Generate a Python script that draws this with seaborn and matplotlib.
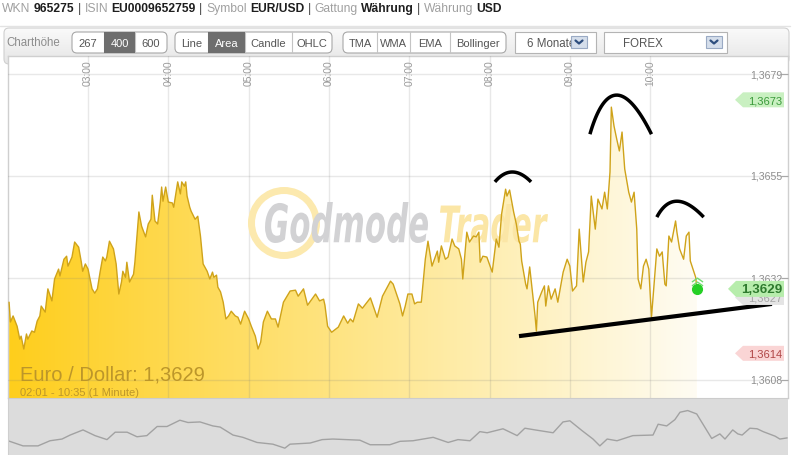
import numpy as np
import pandas as pd
import matplotlib
matplotlib.use("Agg")
import matplotlib.pyplot as plt
import seaborn as sns
from matplotlib.patches import FancyBboxPatch, Rectangle, Polygon, Wedge, PathPatch
from matplotlib.path import Path
from matplotlib.textpath import TextPath
from matplotlib.font_manager import FontProperties
from matplotlib.transforms import Affine2D, blended_transform_factory, offset_copy

# EUR/USD, 1-minute chart: minutes after 02:00 and the quote
minutes = [
    1, 2, 4, 7, 9, 10, 12, 14, 15, 18,
    20, 22, 24, 25, 28, 30, 33, 35, 38, 39,
    42, 44, 45, 48, 50, 53, 55, 56, 58, 60,
    63, 65, 67, 69, 71, 73, 74, 76, 79, 81,
    83, 85, 86, 88, 89, 91, 94, 95, 98, 100,
    103, 105, 107, 108, 110, 112, 114, 115, 116, 118,
    120, 123, 124, 127, 129, 130, 132, 133, 134, 136,
    137, 140, 142, 144, 146, 149, 151, 153, 154, 156,
    157, 159, 161, 163, 165, 167, 170, 172, 174, 177,
    180, 182, 185, 187, 189, 191, 194, 197, 200, 202,
    206, 211, 215, 217, 221, 224, 230, 233, 236, 237,
    239, 242, 247, 251, 254, 256, 258, 262, 265, 271,
    276, 280, 286, 288, 291, 293, 295, 297, 299, 302,
    304, 306, 309, 312, 314, 317, 321, 322, 324, 327,
    329, 332, 334, 337, 339, 340, 343, 345, 348, 350,
    352, 353, 355, 358, 362, 365, 367, 369, 372, 373,
    375, 378, 380, 382, 383, 384, 387, 388, 390, 392,
    394, 395, 396, 399, 401, 402, 404, 406, 409, 411,
    415, 418, 420, 422, 425, 427, 430, 432, 434, 436,
    439, 441, 444, 446, 448, 450, 451, 453, 455, 457,
    459, 461, 464, 466, 468, 470, 471, 473, 475, 477,
    479, 481, 484, 485, 487, 489, 491, 492, 494, 496,
    499, 500, 502, 505, 507, 509, 510, 512, 514, 515,
]
prices = [
    1.36259, 1.36213, 1.36227, 1.36203, 1.36173, 1.36180, 1.36150, 1.36185, 1.36173, 1.36192,
    1.36189, 1.36215, 1.36227, 1.36250, 1.36236, 1.36290, 1.36262, 1.36313, 1.36336, 1.36320,
    1.36359, 1.36366, 1.36343, 1.36364, 1.36399, 1.36387, 1.36352, 1.36331, 1.36348, 1.36336,
    1.36290, 1.36280, 1.36290, 1.36329, 1.36364, 1.36355, 1.36364, 1.36401, 1.36383, 1.36348,
    1.36278, 1.36306, 1.36331, 1.36317, 1.36352, 1.36306, 1.36324, 1.36352, 1.36469, 1.36436,
    1.36411, 1.36441, 1.36452, 1.36508, 1.36448, 1.36441, 1.36492, 1.36527, 1.36494, 1.36527,
    1.36492, 1.36490, 1.36480, 1.36539, 1.36511, 1.36539, 1.36529, 1.36539, 1.36506, 1.36480,
    1.36471, 1.36452, 1.36459, 1.36413, 1.36348, 1.36331, 1.36313, 1.36329, 1.36317, 1.36322,
    1.36294, 1.36283, 1.36259, 1.36220, 1.36227, 1.36238, 1.36227, 1.36224, 1.36208, 1.36238,
    1.36220, 1.36203, 1.36180, 1.36150, 1.36166, 1.36213, 1.36238, 1.36220, 1.36220, 1.36201,
    1.36259, 1.36285, 1.36287, 1.36273, 1.36290, 1.36252, 1.36278, 1.36262, 1.36266, 1.36252,
    1.36203, 1.36189, 1.36201, 1.36227, 1.36210, 1.36220, 1.36213, 1.36255, 1.36245, 1.36269,
    1.36224, 1.36273, 1.36308, 1.36301, 1.36273, 1.36255, 1.36227, 1.36250, 1.36278, 1.36278,
    1.36255, 1.36259, 1.36259, 1.36359, 1.36401, 1.36343, 1.36378, 1.36352, 1.36390, 1.36359,
    1.36364, 1.36406, 1.36390, 1.36383, 1.36359, 1.36313, 1.36422, 1.36399, 1.36413, 1.36411,
    1.36422, 1.36352, 1.36366, 1.36364, 1.36329, 1.36406, 1.36387, 1.36464, 1.36522, 1.36506,
    1.36520, 1.36469, 1.36441, 1.36401, 1.36394, 1.36355, 1.36301, 1.36290, 1.36341, 1.36283,
    1.36227, 1.36192, 1.36259, 1.36283, 1.36297, 1.36250, 1.36297, 1.36266, 1.36290, 1.36259,
    1.36329, 1.36359, 1.36343, 1.36285, 1.36297, 1.36429, 1.36306, 1.36352, 1.36376, 1.36506,
    1.36429, 1.36499, 1.36476, 1.36515, 1.36476, 1.36562, 1.36713, 1.36669, 1.36639, 1.36611,
    1.36655, 1.36569, 1.36515, 1.36492, 1.36515, 1.36429, 1.36313, 1.36290, 1.36343, 1.36359,
    1.36336, 1.36224, 1.36341, 1.36383, 1.36366, 1.36376, 1.36301, 1.36297, 1.36413, 1.36399,
    1.36448, 1.36422, 1.36383, 1.36359, 1.36413, 1.36422, 1.36355, 1.36336, 1.36317, 1.36290,
]

# 6-month overview strip under the chart (days, relative level)
nav_days = [0, 3.5, 7.0, 9.8, 12.6, 14.5, 17.5, 20.3, 23.1, 25.0,
            27.8, 30.1, 32.4, 34.8, 37.1, 40.1, 42.0, 44.8, 47.8, 49.5,
            52.5, 54.8, 58.1, 61.8, 64.6, 65.8, 70.5, 73.3, 75.8, 82.1,
            84.5, 89.1, 91.5, 94.5, 99.2, 102.7, 105.0, 107.8, 110.1, 111.8,
            115.5, 118.8, 120.6, 123.0, 127.2, 129.5, 131.1, 133.9, 136.5, 138.1,
            139.8, 142.1, 145.8, 150.5, 151.7, 153.7, 155.6, 156.8, 158.6, 160.7,
            164.2, 166.1, 167.3, 169.1, 170.3, 171.3, 173.1, 174.8, 176.2, 179.0,
            180.1, 181.8]
nav_level = [25, 16, 16, 25, 28, 35, 44, 34, 27, 40,
             40, 32, 34, 50, 50, 61, 57, 58, 51, 49,
             35, 31, 22, 19, 12, 19, 21, 27, 28, 26,
             18, 18, 24, 25, 31, 22, 27, 25, 41, 39,
             46, 34, 47, 44, 39, 58, 60, 43, 28, 16,
             28, 25, 34, 35, 54, 51, 62, 75, 78, 72,
             29, 37, 28, 44, 37, 35, 47, 46, 41, 33,
             28, 30]

hour_ticks = [60, 120, 180, 240, 300, 360, 420, 480]
hour_labels = ["03:00", "04:00", "05:00", "06:00", "07:00", "08:00", "09:00", "10:00"]
price_ticks = [1.36790, 1.36553, 1.36315, 1.36078]
price_labels = ["1,3679", "1,3655", "1,3632", "1,3608"]

day_high = 1.3673
day_low = 1.3614
last_quote = 1.3629
prev_quote = 1.3627

# head & shoulders sketch drawn onto the screenshot (minute, price)
left_shoulder = [(364, 1.36539), (377, 1.36562), (391, 1.36539)]
head = [(435, 1.36650), (455, 1.36741), (481, 1.36650)]
right_shoulder = [(485, 1.36457), (500, 1.36494), (520, 1.36457)]
neckline = [(382, 1.36180), (571, 1.36255)]

header_parts = [("WKN", "label"), ("965275", "value"), ("|", "sep"),
                ("ISIN", "label"), ("EU0009652759", "value"), ("|", "sep"),
                ("Symbol", "label"), ("EUR/USD", "value"), ("|", "sep"),
                ("Gattung", "label"), ("Währung", "value"), ("|", "sep"),
                ("Währung", "label"), ("USD", "value")]

sns.set_style("white")
plt.rcParams["font.family"] = ["Liberation Sans", "DejaVu Sans"]

W, H = 801, 456
fig = plt.figure(figsize=(W / 100, H / 100), dpi=100)


def px_box(x0, y0, x1, y1):
    return [x0 / W, 1 - y1 / H, (x1 - x0) / W, (y1 - y0) / H]


ui = fig.add_axes([0, 0, 1, 1])
ui.axis("off")
ax = fig.add_axes(px_box(8, 57, 788, 399))
nav = fig.add_axes(px_box(8, 399, 788, 456))
over = fig.add_axes([0, 0, 1, 1])
over.axis("off")
for a in (ui, over):
    a.set_xlim(0, W)
    a.set_ylim(H, 0)

# ---- header line ----
renderer = fig.canvas.get_renderer()
styles = {"label": ("#A0A0A0", "normal"), "value": ("#1E1E1E", "bold"), "sep": ("#444444", "normal")}
x = 2
for txt, kind in header_parts:
    col, wt = styles[kind]
    t = ui.text(x, 9, txt, fontsize=8.7, color=col, fontweight=wt, ha="left", va="center")
    x += t.get_window_extent(renderer).width + 3.4
ui.plot([0, 790], [27, 27], color="#E3E3E3", lw=1)

# ---- toolbar ----
bar = FancyBboxPatch((4, 29), 785, 36, boxstyle="round,pad=0,rounding_size=5",
                     fc="none", ec="#D0D0D0", lw=0.8, zorder=1)
ui.add_patch(bar)
shade_v = np.linspace(0.98, 0.90, 64)[:, None, None] * np.ones((1, 2, 3))
bim = ui.imshow(shade_v, extent=(4, 789, 65, 29), aspect="auto", interpolation="bilinear", zorder=0.5)
bim.set_clip_path(bar)
ui.text(6, 43.5, "Charthöhe", fontsize=8.3, color="#8C8C8C", va="center")


def button_group(items, selected):
    x0, x1 = items[0][1], items[-1][2]
    grp = FancyBboxPatch((x0, 33), x1 - x0, 21, boxstyle="round,pad=0,rounding_size=5",
                         fc="white", ec="#A8A8A8", lw=0.8, zorder=2)
    ui.add_patch(grp)
    for i, (name, a, b) in enumerate(items):
        on = name == selected
        if on:
            r = Rectangle((a, 33), b - a, 21, fc="#6E6E6E", ec="none", zorder=2.2)
            ui.add_patch(r)
            r.set_clip_path(grp)
        if i > 0:
            ui.plot([a, a], [33, 54], color="#C4C4C4", lw=0.8, zorder=2.1)
        ui.text((a + b) / 2, 43.8, name, fontsize=8, ha="center", va="center",
                color="white" if on else "#555555", zorder=3)


button_group([("267", 72, 104), ("400", 104, 135), ("600", 135, 167)], "400")
button_group([("Line", 175, 208), ("Area", 208, 245), ("Candle", 245, 292), ("OHLC", 292, 332)], "Area")
button_group([("TMA", 343, 377), ("WMA", 377, 410), ("EMA", 410, 450), ("Bollinger", 450, 506)], None)


def dropdown(x0, x1, label, tx, ax0):
    ui.add_patch(Rectangle((x0, 33), x1 - x0, 21, fc="white", ec="#B4B4B4", lw=0.8, zorder=2))
    ui.text(tx, 43.8, label, fontsize=8.3, color="#555555", va="center", zorder=3)
    ui.add_patch(Rectangle((ax0, 37), 16, 12, fc="#D5DEEB", ec="#9AAAC4", lw=0.8, zorder=3))
    cx = ax0 + 8
    ui.plot([cx - 3.5, cx, cx + 3.5], [41.5, 44.5, 41.5], color="#2E4E7E", lw=1.6, zorder=4)


dropdown(515, 596, "6 Monate", 527, 571)
dropdown(604, 727, "FOREX", 623, 706)

# ---- price area ----
df = pd.DataFrame({"minute": minutes, "price": prices})
y_lo, y_hi = 1.36036, 1.36832
x_lo, x_hi = 0.2, 583

area = ax.fill_between(df["minute"], df["price"], y_lo, facecolor="none", edgecolor="none")
g = np.linspace(0, 1, 400)
c_left = np.array([254, 206, 28]) / 255
c_right = np.array([255, 252, 243]) / 255
shade_h = c_left + (c_right - c_left) * g[:, None]
fim = ax.imshow(shade_h[None, :, :], extent=(minutes[0], minutes[-1], y_lo, y_hi),
                aspect="auto", interpolation="bilinear", zorder=1)
fim.set_clip_path(area.get_paths()[0], transform=ax.transData)

sns.lineplot(data=df, x="minute", y="price", ax=ax, color="#CFA31A", linewidth=1.0, zorder=5)

ax.set_xlim(x_lo, x_hi)
ax.set_ylim(y_lo, y_hi)
ax.set_xlabel("")
ax.set_ylabel("")
ax.set_xticks(hour_ticks)
ax.set_yticks(price_ticks)
ax.set_axisbelow(False)
ax.grid(True, color="#7A7A7A", alpha=0.17, lw=1)
ax.tick_params(axis="x", length=0, labelbottom=False)
ax.yaxis.set_ticks_position("right")
ax.tick_params(axis="y", direction="in", length=5, width=0.8, color="#A8A8A8",
               labelright=False, labelleft=False)
for side in ("left", "right", "top"):
    ax.spines[side].set_color("#CFCFCF")
    ax.spines[side].set_linewidth(1)
ax.spines["bottom"].set_visible(False)

xtop = blended_transform_factory(ax.transData, ax.transAxes)
for tk, lab in zip(hour_ticks, hour_labels):
    ax.text(tk, 0.991, lab, transform=xtop, rotation=90, ha="center", va="top",
            fontsize=7.4, color="#9A9A9A", zorder=6)
yright = blended_transform_factory(ax.transAxes, ax.transData)
for tk, lab in zip(price_ticks, price_labels):
    ax.text(0.9923, tk, lab, transform=yright, ha="right", va="center",
            fontsize=7.6, color="#8E8E8E", zorder=6)

# watermark (pixel coordinates)
ring = Wedge((284, 224), 36, 0, 360, width=7, fc="#FCE9AE", ec="none",
             transform=ui.transData, zorder=2.8)
ax.add_artist(ring)
wm_font = FontProperties(family="DejaVu Sans", weight="bold", style="italic")


def word_patch(word, left, top, right, base, color):
    tp = TextPath((0, 0), word, size=50, prop=wm_font)
    ext = tp.get_extents()
    tr = (Affine2D().translate(-ext.x0, -ext.y0)
          .scale((right - left) / ext.width, -(base - top) / ext.height)
          .translate(left, base))
    p = PathPatch(tr.transform_path(tp), fc=color, ec="none", transform=ui.transData, zorder=3)
    ax.add_artist(p)


word_patch("Godmode", 265, 203, 428, 244, "#D2D2D4")
word_patch("Trader", 440, 205, 548, 244, "#FBE6A6")


def bezier(pts, n=40):
    (x0, y0), (xp, yp), (x2, y2) = pts
    cx, cy = 2 * xp - (x0 + x2) / 2, 2 * yp - (y0 + y2) / 2
    t = np.linspace(0, 1, n)
    bx = (1 - t) ** 2 * x0 + 2 * (1 - t) * t * cx + t ** 2 * x2
    by = (1 - t) ** 2 * y0 + 2 * (1 - t) * t * cy + t ** 2 * y2
    return bx, by


for arc in (left_shoulder, head, right_shoulder):
    bx, by = bezier(arc)
    ax.plot(bx, by, color="black", lw=2.5, solid_capstyle="butt", zorder=8)
ax.plot([p[0] for p in neckline], [p[1] for p in neckline], color="black", lw=3.0,
        solid_capstyle="butt", zorder=8)

# last quote marker
ax.plot(minutes[-1], prices[-1], "o", ms=7, color="#25D025", zorder=9)
chev = Path([(-1, -0.1), (0, 0.6), (1, -0.1), (-1, -0.8), (0, -0.1), (1, -0.8)],
            [Path.MOVETO, Path.LINETO, Path.LINETO, Path.MOVETO, Path.LINETO, Path.LINETO])
ax.plot(minutes[-1], prices[-1], marker=chev, ms=8, mfc="none", mec="#72DC72", mew=1,
        transform=offset_copy(ax.transData, fig=fig, x=0, y=8, units="dots"), zorder=9)

# ---- overview strip ----
nav.set_facecolor("#DCDCDC")
sns.lineplot(x=nav_days, y=nav_level, ax=nav, color="#A2A2A2", linewidth=1.0)
nav.set_xlim(0, 182)
nav.set_ylim(0, 100)
nav.set_xticks([])
nav.set_yticks([])
nav.set_xlabel("")
nav.set_ylabel("")
for side in ("right", "bottom"):
    nav.spines[side].set_visible(False)
nav.spines["left"].set_color("#CFCFCF")
nav.spines["top"].set_color("#CCCCCC")

# ---- price tags & captions (pixel overlay) ----


def py(price):
    return H - ax.transData.transform((0, price))[1]


def tag(price, text, face, color, x0=735, x1=784, h=15, size=8, weight="normal", z=5):
    yc = py(price)
    pts = [(x0, yc), (x0 + 8, yc - h / 2), (x1, yc - h / 2), (x1, yc + h / 2), (x0 + 8, yc + h / 2)]
    over.add_patch(Polygon(pts, closed=True, fc=face, ec="none", zorder=z))
    over.text(x1 - 2, yc + 0.5, text, ha="right", va="center", fontsize=size,
              fontweight=weight, color=color, zorder=z + 0.1)


def fmt(v):
    return f"{v:.4f}".replace(".", ",")


tag(day_high, fmt(day_high), "#C9F0C1", "#3A9A3A")
tag(prev_quote, fmt(prev_quote), "#E4E4E4", "#A6A6A6", z=5)
tag(last_quote, fmt(last_quote), "#B7EDAC", "#2E7A2E", x0=728, h=16, size=9.6, weight="bold", z=6)
tag(day_low, fmt(day_low), "#FAD5D5", "#B04646")

start = f"{2 + minutes[0] // 60:02d}:{minutes[0] % 60:02d}"
end = f"{2 + minutes[-1] // 60:02d}:{minutes[-1] % 60:02d}"
over.text(20, 381, f"Euro / Dollar: {fmt(prices[-1])}", fontsize=14.5, color="#BC962A",
          va="baseline", ha="left")
over.text(20, 396, f"{start} - {end} (1 Minute)", fontsize=8, color="#BC962A",
          va="baseline", ha="left")

for a in (ui, over):
    a.set_xlim(0, W)
    a.set_ylim(H, 0)

fig.savefig("out.png", dpi=100)
